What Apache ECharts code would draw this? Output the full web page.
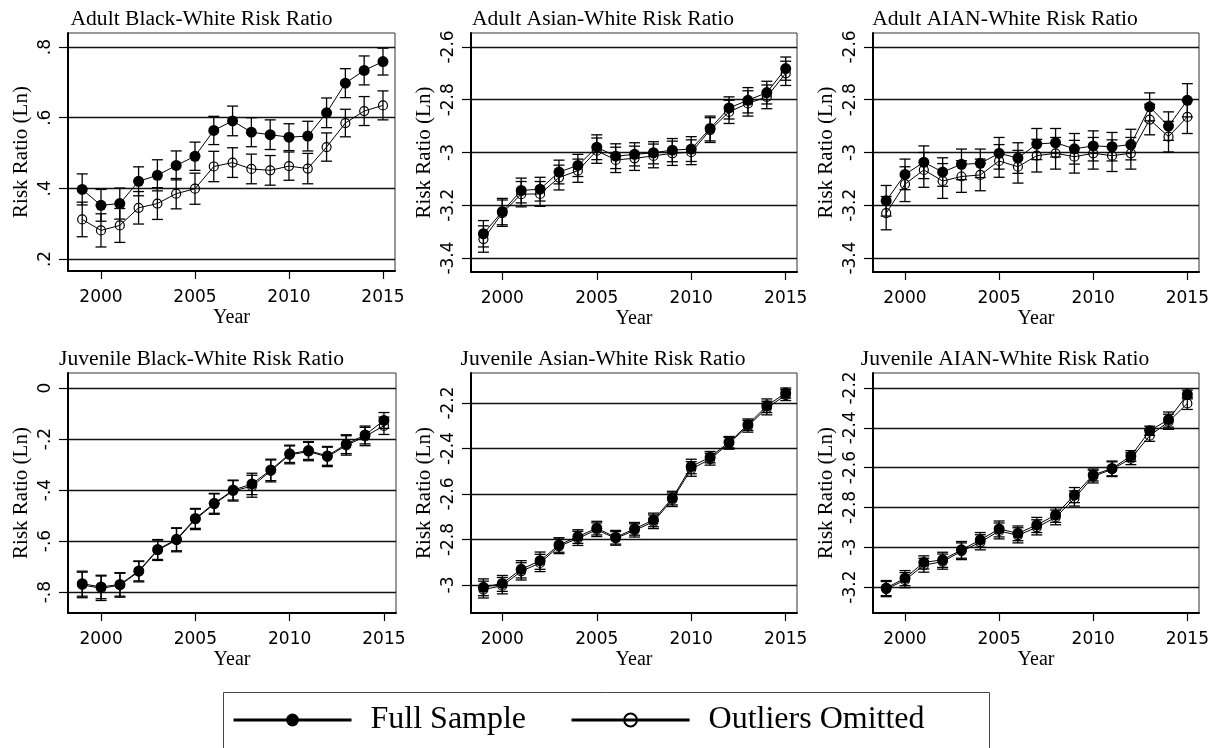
<!DOCTYPE html>
<html>
<head>
<meta charset="utf-8">
<script src="https://cdn.jsdelivr.net/npm/echarts@6/dist/echarts.min.js"></script>
<style>
  html, body { margin: 0; padding: 0; background: #fff; }
  #chart { width: 1220px; height: 748px; }
</style>
</head>
<body>
<div id="chart"></div>
<script>
// Years covered by every panel
const years = [1999, 2000, 2001, 2002, 2003, 2004, 2005, 2006, 2007, 2008, 2009, 2010, 2011, 2012, 2013, 2014, 2015];
const yearTicks = [2000, 2005, 2010, 2015];

// Adult Black-White (log risk ratio, point estimate and CI half-width)
const adultBlackFull   = [0.397, 0.352, 0.357, 0.420, 0.437, 0.465, 0.491, 0.564, 0.591, 0.559, 0.552, 0.545, 0.548, 0.614, 0.698, 0.734, 0.759];
const adultBlackFullCI = [0.044, 0.045, 0.044, 0.041, 0.044, 0.041, 0.040, 0.040, 0.042, 0.041, 0.042, 0.038, 0.042, 0.042, 0.041, 0.041, 0.038];
const adultBlackOut    = [0.312, 0.281, 0.295, 0.345, 0.357, 0.385, 0.399, 0.462, 0.473, 0.455, 0.451, 0.463, 0.456, 0.517, 0.585, 0.619, 0.635];
const adultBlackOutCI  = [0.049, 0.047, 0.048, 0.046, 0.045, 0.043, 0.044, 0.043, 0.042, 0.042, 0.042, 0.040, 0.043, 0.040, 0.039, 0.041, 0.041];
const adultBlackTicks  = [0.2, 0.4, 0.6, 0.8];

// Adult Asian-White
const adultAsianFull   = [-3.308, -3.224, -3.144, -3.139, -3.074, -3.049, -2.980, -3.014, -3.007, -3.001, -2.991, -2.987, -2.909, -2.831, -2.802, -2.773, -2.682];
const adultAsianFullCI = [0.050, 0.050, 0.047, 0.045, 0.045, 0.042, 0.047, 0.047, 0.044, 0.042, 0.044, 0.047, 0.047, 0.042, 0.048, 0.043, 0.044];
const adultAsianOut    = [-3.328, -3.230, -3.158, -3.157, -3.095, -3.069, -2.993, -3.028, -3.022, -3.013, -3.003, -2.999, -2.915, -2.846, -2.814, -2.789, -2.700];
const adultAsianOutCI  = [0.050, 0.050, 0.048, 0.047, 0.047, 0.044, 0.048, 0.048, 0.046, 0.045, 0.046, 0.047, 0.047, 0.044, 0.048, 0.045, 0.046];
const adultAsianTicks  = [-3.4, -3.2, -3, -2.8, -2.6];

// Adult AIAN-White
const adultAianFull    = [-3.183, -3.083, -3.037, -3.074, -3.045, -3.041, -3.003, -3.021, -2.968, -2.963, -2.986, -2.975, -2.978, -2.970, -2.827, -2.900, -2.802];
const adultAianFullCI  = [0.058, 0.058, 0.062, 0.054, 0.058, 0.054, 0.060, 0.058, 0.059, 0.054, 0.058, 0.057, 0.054, 0.058, 0.053, 0.054, 0.063];
const adultAianOut     = [-3.230, -3.120, -3.066, -3.108, -3.091, -3.085, -3.032, -3.054, -3.012, -3.003, -3.016, -3.003, -3.012, -3.003, -2.875, -2.940, -2.865];
const adultAianOutCI   = [0.063, 0.066, 0.066, 0.066, 0.060, 0.060, 0.062, 0.062, 0.062, 0.060, 0.062, 0.060, 0.060, 0.060, 0.058, 0.058, 0.063];
const adultAianTicks   = [-3.4, -3.2, -3, -2.8, -2.6];

// Juvenile Black-White
const juvBlackFull     = [-0.767, -0.780, -0.770, -0.717, -0.633, -0.593, -0.511, -0.452, -0.400, -0.376, -0.321, -0.258, -0.245, -0.266, -0.220, -0.184, -0.127];
const juvBlackFullCI   = [0.049, 0.046, 0.046, 0.039, 0.039, 0.045, 0.039, 0.039, 0.039, 0.042, 0.042, 0.034, 0.035, 0.037, 0.037, 0.035, 0.031];
const juvBlackOut      = [-0.772, -0.785, -0.773, -0.720, -0.636, -0.596, -0.515, -0.455, -0.403, -0.385, -0.325, -0.262, -0.249, -0.270, -0.225, -0.190, -0.148];
const juvBlackOutCI    = [0.050, 0.048, 0.047, 0.040, 0.040, 0.046, 0.040, 0.040, 0.040, 0.043, 0.043, 0.035, 0.036, 0.038, 0.038, 0.036, 0.034];
const juvBlackTicks    = [-0.8, -0.6, -0.4, -0.2, 0];

// Juvenile Asian-White
const juvAsianFull     = [-3.010, -2.993, -2.931, -2.893, -2.824, -2.787, -2.750, -2.790, -2.753, -2.714, -2.618, -2.479, -2.438, -2.372, -2.295, -2.212, -2.156];
const juvAsianFullCI   = [0.037, 0.035, 0.038, 0.038, 0.032, 0.030, 0.030, 0.030, 0.028, 0.030, 0.030, 0.032, 0.025, 0.025, 0.025, 0.030, 0.022];
const juvAsianOut      = [-3.020, -3.003, -2.940, -2.903, -2.830, -2.795, -2.757, -2.795, -2.760, -2.722, -2.625, -2.490, -2.447, -2.377, -2.302, -2.222, -2.165];
const juvAsianOutCI    = [0.037, 0.036, 0.038, 0.038, 0.032, 0.031, 0.030, 0.030, 0.029, 0.030, 0.030, 0.032, 0.026, 0.026, 0.026, 0.030, 0.024];
const juvAsianTicks    = [-3, -2.8, -2.6, -2.4, -2.2];

// Juvenile AIAN-White
const juvAianFull      = [-3.205, -3.155, -3.076, -3.063, -3.013, -2.963, -2.908, -2.930, -2.888, -2.838, -2.738, -2.637, -2.604, -2.542, -2.415, -2.359, -2.233];
const juvAianFullCI    = [0.038, 0.038, 0.033, 0.038, 0.042, 0.037, 0.040, 0.037, 0.038, 0.037, 0.038, 0.030, 0.037, 0.027, 0.023, 0.038, 0.022];
const juvAianOut       = [-3.210, -3.165, -3.090, -3.072, -3.020, -2.975, -2.918, -2.940, -2.900, -2.850, -2.755, -2.645, -2.608, -2.555, -2.440, -2.370, -2.278];
const juvAianOutCI     = [0.038, 0.038, 0.035, 0.038, 0.042, 0.038, 0.040, 0.038, 0.038, 0.037, 0.038, 0.032, 0.037, 0.030, 0.028, 0.038, 0.030];
const juvAianTicks     = [-3.2, -3, -2.8, -2.6, -2.4, -2.2];

const seriesNames = ['Full Sample', 'Outliers Omitted'];

// Panel layout: plot rectangles, axis ranges and title centres
const panels = [
  { title: 'Adult Black-White Risk Ratio',    full: adultBlackFull, fullCI: adultBlackFullCI, out: adultBlackOut, outCI: adultBlackOutCI, ticks: adultBlackTicks,
    grid: { left: 68,  top: 33,  width: 327, height: 238 }, x: [1998.245, 2015.64], y: [0.166, 0.84],   titleX: 201.5, titleY: 8 },
  { title: 'Adult Asian-White Risk Ratio',    full: adultAsianFull, fullCI: adultAsianFullCI, out: adultAsianOut, outCI: adultAsianOutCI, ticks: adultAsianTicks,
    grid: { left: 471, top: 33,  width: 326, height: 239 }, x: [1998.343, 2015.598], y: [-3.453, -2.547], titleX: 603,   titleY: 8 },
  { title: 'Adult AIAN-White Risk Ratio',     full: adultAianFull,  fullCI: adultAianFullCI,  out: adultAianOut,  outCI: adultAianOutCI,  ticks: adultAianTicks,
    grid: { left: 873, top: 33,  width: 326, height: 239 }, x: [1998.30, 2015.62],  y: [-3.453, -2.547], titleX: 1005,  titleY: 8 },
  { title: 'Juvenile Black-White Risk Ratio', full: juvBlackFull,   fullCI: juvBlackFullCI,   out: juvBlackOut,   outCI: juvBlackOutCI,   ticks: juvBlackTicks,
    grid: { left: 68,  top: 373, width: 328, height: 240 }, x: [1998.245, 2015.64], y: [-0.882, 0.059], titleX: 201.5, titleY: 348 },
  { title: 'Juvenile Asian-White Risk Ratio', full: juvAsianFull,   fullCI: juvAsianFullCI,   out: juvAsianOut,   outCI: juvAsianOutCI,   ticks: juvAsianTicks,
    grid: { left: 471, top: 373, width: 326, height: 240 }, x: [1998.343, 2015.598], y: [-3.123, -2.068], titleX: 603,   titleY: 348 },
  { title: 'Juvenile AIAN-White Risk Ratio',  full: juvAianFull,    fullCI: juvAianFullCI,    out: juvAianOut,    outCI: juvAianOutCI,    ticks: juvAianTicks,
    grid: { left: 873, top: 373, width: 326, height: 240 }, x: [1998.30, 2015.62],  y: [-3.33, -2.125],  titleX: 1005,  titleY: 348 }
];

const SERIF = '"Liberation Serif", "Times New Roman", serif';
const SANS = '"DejaVu Sans", Verdana, sans-serif';
const INK = '#000';

function tickText(v) {
  const s = String(+(+v).toFixed(2));
  return s.replace(/^(-?)0\./, '$1.');
}

function yearText(v) {
  return String(Math.round(v));
}

// Vertical confidence-interval bars with end caps
function errorBars(name, values, half, idx) {
  return {
    type: 'custom',
    name: name,
    xAxisIndex: idx,
    yAxisIndex: idx,
    z: 2,
    silent: true,
    data: years.map((yr, i) => [yr, values[i] - half[i], values[i] + half[i]]),
    renderItem: function (params, api) {
      const lo = api.coord([api.value(0), api.value(1)]);
      const hi = api.coord([api.value(0), api.value(2)]);
      const cap = 5.5;
      const st = { stroke: INK, lineWidth: 1.3 };
      return {
        type: 'group',
        children: [
          { type: 'line', shape: { x1: lo[0], y1: lo[1], x2: hi[0], y2: hi[1] }, style: st },
          { type: 'line', shape: { x1: lo[0] - cap, y1: lo[1], x2: lo[0] + cap, y2: lo[1] }, style: st },
          { type: 'line', shape: { x1: hi[0] - cap, y1: hi[1], x2: hi[0] + cap, y2: hi[1] }, style: st }
        ]
      };
    }
  };
}

const grids = [], xAxes = [], yAxes = [], titles = [], series = [];

panels.forEach((p, i) => {
  grids.push(Object.assign({
    show: true, borderColor: '#333', borderWidth: 1, backgroundColor: 'transparent',
    containLabel: false, outerBoundsMode: 'none'
  }, p.grid));

  titles.push({
    text: p.title, left: p.titleX, top: p.titleY, textAlign: 'center', padding: 0,
    textStyle: { fontFamily: SERIF, fontSize: 21.6, fontWeight: 'normal', color: INK }
  });

  xAxes.push({
    type: 'value', gridIndex: i, min: p.x[0], max: p.x[1],
    name: 'Year', nameLocation: 'middle', nameGap: 37, nameMoveOverlap: false,
    nameTextStyle: { fontFamily: SERIF, fontSize: 20, color: INK },
    axisLine: { show: true, onZero: false, lineStyle: { color: INK, width: 2 } },
    axisTick: { show: true, length: 8, lineStyle: { color: INK, width: 1.2 }, customValues: yearTicks },
    axisLabel: { customValues: yearTicks, margin: 18, fontFamily: SANS, fontSize: 17, color: INK, formatter: yearText },
    splitLine: { show: false }
  });

  yAxes.push({
    type: 'value', gridIndex: i, min: p.y[0], max: p.y[1],
    name: 'Risk Ratio (Ln)', nameLocation: 'middle', nameGap: 36, nameMoveOverlap: false,
    nameTextStyle: { fontFamily: SERIF, fontSize: 21, color: INK },
    axisLine: { show: true, onZero: false, lineStyle: { color: INK, width: 2 } },
    axisTick: { show: true, length: 9, lineStyle: { color: INK, width: 1.2 }, customValues: p.ticks },
    axisLabel: { customValues: p.ticks, rotate: 90, margin: 14, fontFamily: SANS, fontSize: 17, color: INK, formatter: tickText },
    splitLine: { show: true, lineStyle: { color: '#111', width: 1.3 } }
  });

  series.push({
    type: 'line', name: seriesNames[0], xAxisIndex: i, yAxisIndex: i, z: 3,
    data: years.map((yr, k) => [yr, p.full[k]]),
    symbol: 'circle', symbolSize: 11, showSymbol: true,
    lineStyle: { color: INK, width: 1 },
    itemStyle: { color: INK, borderColor: INK, borderWidth: 0 }
  });
  series.push({
    type: 'line', name: seriesNames[1], xAxisIndex: i, yAxisIndex: i, z: 3,
    data: years.map((yr, k) => [yr, p.out[k]]),
    symbol: 'circle', symbolSize: 9, showSymbol: true,
    lineStyle: { color: INK, width: 1 },
    itemStyle: { color: 'rgba(255,255,255,0)', borderColor: INK, borderWidth: 1.2 }
  });

  series.push(errorBars(seriesNames[0] + ' CI', p.full, p.fullCI, i));
  series.push(errorBars(seriesNames[1] + ' CI', p.out, p.outCI, i));
});

const chart = echarts.init(document.getElementById('chart'), null, { renderer: 'canvas' });
chart.setOption({
  animation: false,
  backgroundColor: '#fff',
  title: titles,
  grid: grids,
  xAxis: xAxes,
  yAxis: yAxes,
  series: series,
  legend: {
    data: seriesNames,
    left: 232, top: 704, padding: 0,
    itemWidth: 118, itemHeight: 16, itemGap: 44,
    lineStyle: { width: 3, color: INK },
    textStyle: { fontFamily: SERIF, fontSize: 32, color: INK, padding: [0, 0, 0, 14] },
    selectedMode: false
  },
  graphic: [{
    type: 'rect', left: 221, top: 690, silent: true,
    shape: { width: 766, height: 80 },
    style: { fill: 'none', stroke: '#444', lineWidth: 1 }
  }]
});
</script>
</body>
</html>
